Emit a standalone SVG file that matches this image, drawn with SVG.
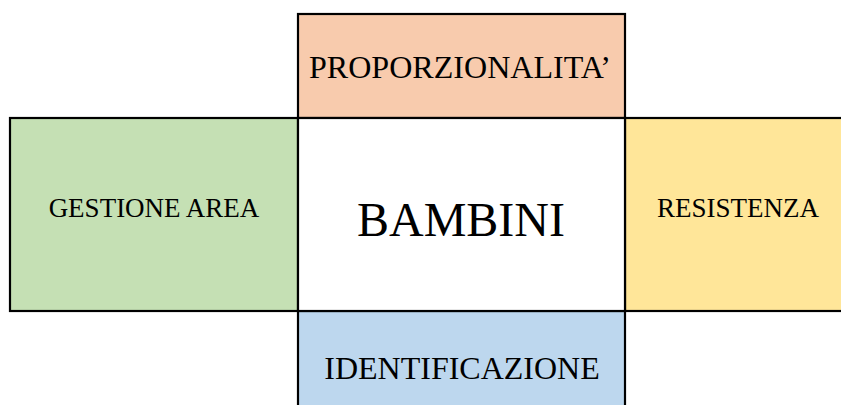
<svg xmlns="http://www.w3.org/2000/svg" width="841" height="405" viewBox="0 0 841 405">
<style>
.b{stroke:#000;stroke-width:2.2;}
.t{font-family:"Liberation Serif","Times New Roman",serif;fill:#000;text-anchor:middle;}
</style>
<rect width="841" height="405" fill="#fff"/>
<g id="proporzionalita">
<rect x="298" y="14" width="327" height="104" fill="#F8CBAD" class="b"/>
<text class="t" x="460" y="78" font-size="32" textLength="302" lengthAdjust="spacingAndGlyphs">PROPORZIONALITA’</text>
</g>
<g id="gestione-area">
<rect x="10" y="118" width="288" height="193" fill="#C5E0B4" class="b"/>
<text class="t" x="154" y="217" font-size="27">GESTIONE AREA</text>
</g>
<g id="resistenza">
<rect x="625" y="118" width="230" height="193" fill="#FFE699" class="b"/>
<text class="t" x="738" y="217" font-size="27">RESISTENZA</text>
</g>
<g id="identificazione">
<rect x="298" y="311" width="327" height="110" fill="#BDD7EE" class="b"/>
<text class="t" x="462" y="379" font-size="32">IDENTIFICAZIONE</text>
</g>
<g id="bambini">
<rect x="298" y="118" width="327" height="193" fill="#FFFFFF" class="b"/>
<text class="t" x="461" y="236" font-size="48">BAMBINI</text>
</g>
<g id="connectors"></g>
</svg>
